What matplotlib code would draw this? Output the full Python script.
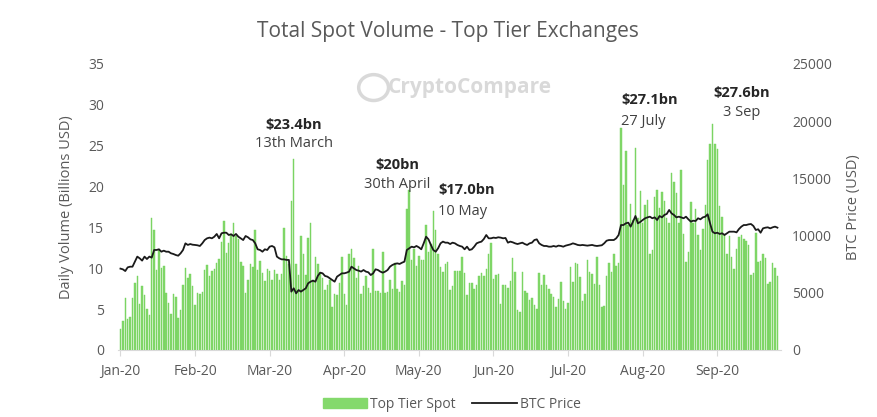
import matplotlib
matplotlib.use("Agg")
import matplotlib.pyplot as plt
import matplotlib.dates as mdates
from matplotlib.patches import Patch, Ellipse
from matplotlib.lines import Line2D
import pandas as pd

# daily top tier spot volume (billions USD), 1 Jan 2020 - 30 Sep 2020
volume = [
    2.6, 3.5, 6.3, 3.8, 4.0, 6.4, 8.2, 9.0, 5.6, 7.8, 6.7, 5.0, 4.3, 16.2, 14.7,
    9.8, 12.2, 10.0, 10.3, 7.0, 5.8, 4.4, 6.9, 6.5, 3.9, 4.9, 8.0, 10.0, 8.8, 9.3,
    7.8, 5.5, 7.0, 6.8, 7.1, 9.8, 10.4, 9.1, 9.7, 9.9, 10.7, 11.1, 13.2, 15.8, 11.9,
    13.1, 14.2, 15.5, 14.0, 13.6, 10.8, 10.3, 7.0, 8.6, 10.5, 10.1, 14.7, 9.8, 10.9, 9.4,
    8.4, 9.9, 9.7, 8.6, 9.8, 9.3, 8.6, 9.3, 14.9, 11.5, 10.5, 18.2, 23.4, 10.5, 9.2,
    13.9, 11.8, 9.2, 13.7, 15.5, 8.6, 11.4, 10.5, 9.4, 8.8, 7.3, 8.0, 8.6, 5.3, 6.9,
    6.7, 8.2, 11.4, 6.9, 5.5, 11.7, 12.3, 11.3, 8.8, 10.3, 6.9, 7.8, 9.0, 7.6, 7.0,
    12.3, 7.2, 7.2, 7.0, 12.0, 7.0, 7.1, 8.6, 7.5, 10.7, 7.5, 7.1, 8.5, 7.9, 17.3,
    19.6, 11.0, 12.3, 10.3, 11.5, 11.0, 11.0, 15.3, 12.0, 13.0, 17.0, 14.7, 11.8, 10.2, 9.5,
    10.5, 10.8,
    7.3, 7.8, 9.7, 9.7, 9.7, 11.4, 9.4, 6.7, 8.2, 8.2, 7.5, 7.9, 9.1, 9.4, 9.0,
    9.9, 11.8, 13.1, 8.7, 9.2, 9.3, 5.6, 8.0, 8.0, 7.6, 8.5, 11.2, 9.5, 4.9, 4.7,
    9.5, 7.2, 7.0, 6.1, 6.3, 5.5, 5.0, 9.4, 8.0, 9.2, 7.9, 7.5, 6.9, 6.5, 5.2,
    6.2, 8.3, 6.0, 5.0, 5.8, 10.1, 8.3, 10.6, 10.5, 8.9, 6.0, 6.9, 11.0, 9.5, 9.3,
    8.1, 11.4, 8.0, 5.2, 5.4, 9.1, 10.7, 9.5, 11.7, 10.3, 10.7, 27.1, 20.2, 24.4, 15.3,
    17.9, 15.9, 24.7, 16.1, 19.5, 15.5, 17.8, 18.4, 11.7, 12.2, 18.7, 19.6, 17.4, 19.3, 18.2,
    16.2, 15.5, 21.6, 20.6, 19.2, 15.5, 22.0, 14.2, 10.8, 12.0, 18.1, 15.5, 17.3, 14.1, 12.2,
    14.8, 17.8, 23.2, 25.2, 27.6, 25.2, 24.6, 17.6, 16.3, 14.2, 11.8, 14.0, 11.4, 9.9, 12.3,
    13.8, 14.1, 13.6, 13.3, 12.9, 9.2, 9.4, 14.3, 10.8, 10.9, 11.8, 11.2, 8.1, 8.3, 10.7,
    10.0, 9.1,
]

# BTC daily price (USD)
btc_price = [
    7110, 7050, 6900, 7220, 7280, 7280, 7720, 8160, 8010, 7810, 8160, 7950, 8160, 8070, 8740,
    8740, 8800, 8590, 8680, 8590, 8590, 8450, 8390, 8300, 8240, 8450, 8740, 9320, 9180, 9260,
    9200, 9180, 9150, 9090, 9320, 9610, 9760, 9820, 9760, 9900, 10140, 9760, 10200, 10250, 10250,
    10050, 10110, 9960, 10140, 9900, 9760, 9610, 9960, 9850, 9670, 9610, 9320, 8800, 8740, 8590,
    8800, 8740, 9030, 9090, 8970, 8160, 8010, 7920, 7920, 7870, 7870, 5100, 5390, 4950, 5240,
    5100, 5240, 5390, 5830, 5970, 6060, 5970, 6470, 6760, 6700, 6470, 6410, 6260, 6120, 5970,
    6410, 6550, 6700, 6700, 6760, 6850, 7280, 7140, 6990, 6930, 6850, 6990, 6850, 6790, 6550,
    6700, 7050, 6990, 6850, 6760, 6850, 6990, 7280, 7430, 7520, 7570, 7520, 7630, 7720, 8740,
    8890, 9030, 8970, 9090, 8970, 8800, 9320, 9900, 9670, 9180, 8740, 8590, 8890, 9320, 9470,
    9380, 9380,
    9260, 9380, 9320, 9180, 9090, 9030, 8800, 9030, 8740, 8800, 9030, 9320, 9410, 9470, 9700,
    10050, 9760, 9760, 9820, 9790, 9850, 9820, 9760, 9790, 9380, 9470, 9410, 9320, 9260, 9320,
    9380, 9260, 9180, 9320, 9380, 9610, 9670, 9320, 9180, 9090, 9090, 9030, 9030, 9090, 9030,
    9120, 9090, 9030, 9120, 9180, 9230, 9320, 9260, 9180, 9150, 9180, 9150, 9120, 9150, 9180,
    9120, 9090, 9120, 9150, 9320, 9550, 9610, 9610, 9610, 9760, 10050, 10920, 10920, 11070, 11130,
    10780, 11220, 11710, 11070, 11190, 11360, 11510, 11590, 11650, 11510, 11590, 11360, 11710, 11590, 11800,
    11890, 12240, 11940, 11800, 11590, 11650, 11590, 11510, 11650, 11420, 11220, 11300, 11270, 11510, 11420,
    11590, 11650, 11860, 11070, 10340, 10200, 10250, 10140, 10200, 10050, 10200, 10340, 10340, 10340, 10280,
    10570, 10780, 10920, 10920, 10980, 11010, 10840, 10490, 10550, 10250, 10630, 10690, 10720, 10630, 10720,
    10780, 10690,
]

dates = pd.date_range("2020-01-01", periods=len(volume), freq="D")

# peak annotations: (day index, amount, date text, x offset in days, align, y amount, y date)
peaks = [
    (72, "$23.4bn", "13th March", 0, "center", 27.5, 25.3),
    (120, "$20bn", "30th April", -5, "center", 22.6, 20.3),
    (130, "$17.0bn", "10 May", 2, "left", 19.6, 17.0),
    (208, "$27.1bn", "27 July", 0, "left", 30.6, 28.0),
    (246, "$27.6bn", "3 Sep", 12, "center", 31.5, 29.1),
]

plt.rcParams["font.family"] = ["Open Sans", "DejaVu Sans"]
grey = "#595959"
green = "#84d96c"

fig = plt.figure(figsize=(8.77, 4.17), dpi=100)
ax = fig.add_axes([0.1346, 0.1607, 0.756, 0.686])
ax2 = ax.twinx()

ax.bar(dates, volume, width=0.62, color=green, edgecolor="#6fcf58", linewidth=0.3, zorder=2)
ax2.plot(dates, btc_price, color="#1a1a1a", linewidth=1.3, zorder=3)

ax.set_ylim(0, 35)
ax.set_yticks(range(0, 36, 5))
ax2.set_ylim(0, 25000)
ax2.set_yticks(range(0, 25001, 5000))
ax.set_xlim(dates[0] - pd.Timedelta(days=1), dates[-1] + pd.Timedelta(days=1.5))

ax.set_xticks(dates[::31])
ax.xaxis.set_major_formatter(mdates.DateFormatter("%b-%y"))

for a in (ax, ax2):
    for s in a.spines.values():
        s.set_visible(False)
    a.tick_params(colors=grey, labelsize=10, length=0)
ax.spines["bottom"].set_visible(True)
ax.spines["bottom"].set_color("#d9d9d9")
ax.tick_params(axis="x", length=4, color="#d9d9d9", pad=6)
ax.tick_params(axis="y", pad=10)
ax2.tick_params(axis="y", pad=8)

ax.set_ylabel("Daily Volume (Billions USD)", color=grey, fontsize=10.5, labelpad=10)
ax2.set_ylabel("BTC Price (USD)", color=grey, fontsize=10.5, labelpad=10)

fig.text(0.511, 0.925, "Total Spot Volume - Top Tier Exchanges", ha="center", va="center",
         fontsize=15, color=grey)

# watermark
fig.text(0.536, 0.79, "CryptoCompare", ha="center", va="center", fontsize=15,
         fontweight="bold", color="#d9d9d9", zorder=0)
fig.patches.append(Ellipse((0.426, 0.79), 0.034, 0.062, transform=fig.transFigure,
                           fill=False, edgecolor="#d9d9d9", linewidth=2.5, zorder=0))

for idx, amount, label, off, align, y1, y2 in peaks:
    x = dates[idx] + pd.Timedelta(days=off)
    ax.text(x, y1, amount, ha=align, va="center", fontsize=10.5, fontweight="bold", color="#262626")
    ax.text(x, y2, label, ha=align, va="center", fontsize=10.5, color="#404040")

handles = [Patch(facecolor=green, edgecolor=green),
           Line2D([0], [0], color="#1a1a1a", linewidth=1.3)]
fig.legend(handles, ["Top Tier Spot", "BTC Price"], loc="center", bbox_to_anchor=(0.515, 0.03),
           ncol=2, frameon=False, fontsize=10, labelcolor=grey, handlelength=3.2,
           handleheight=0.7, columnspacing=1.2, handletextpad=0.2)

fig.savefig("out.png", dpi=100)
